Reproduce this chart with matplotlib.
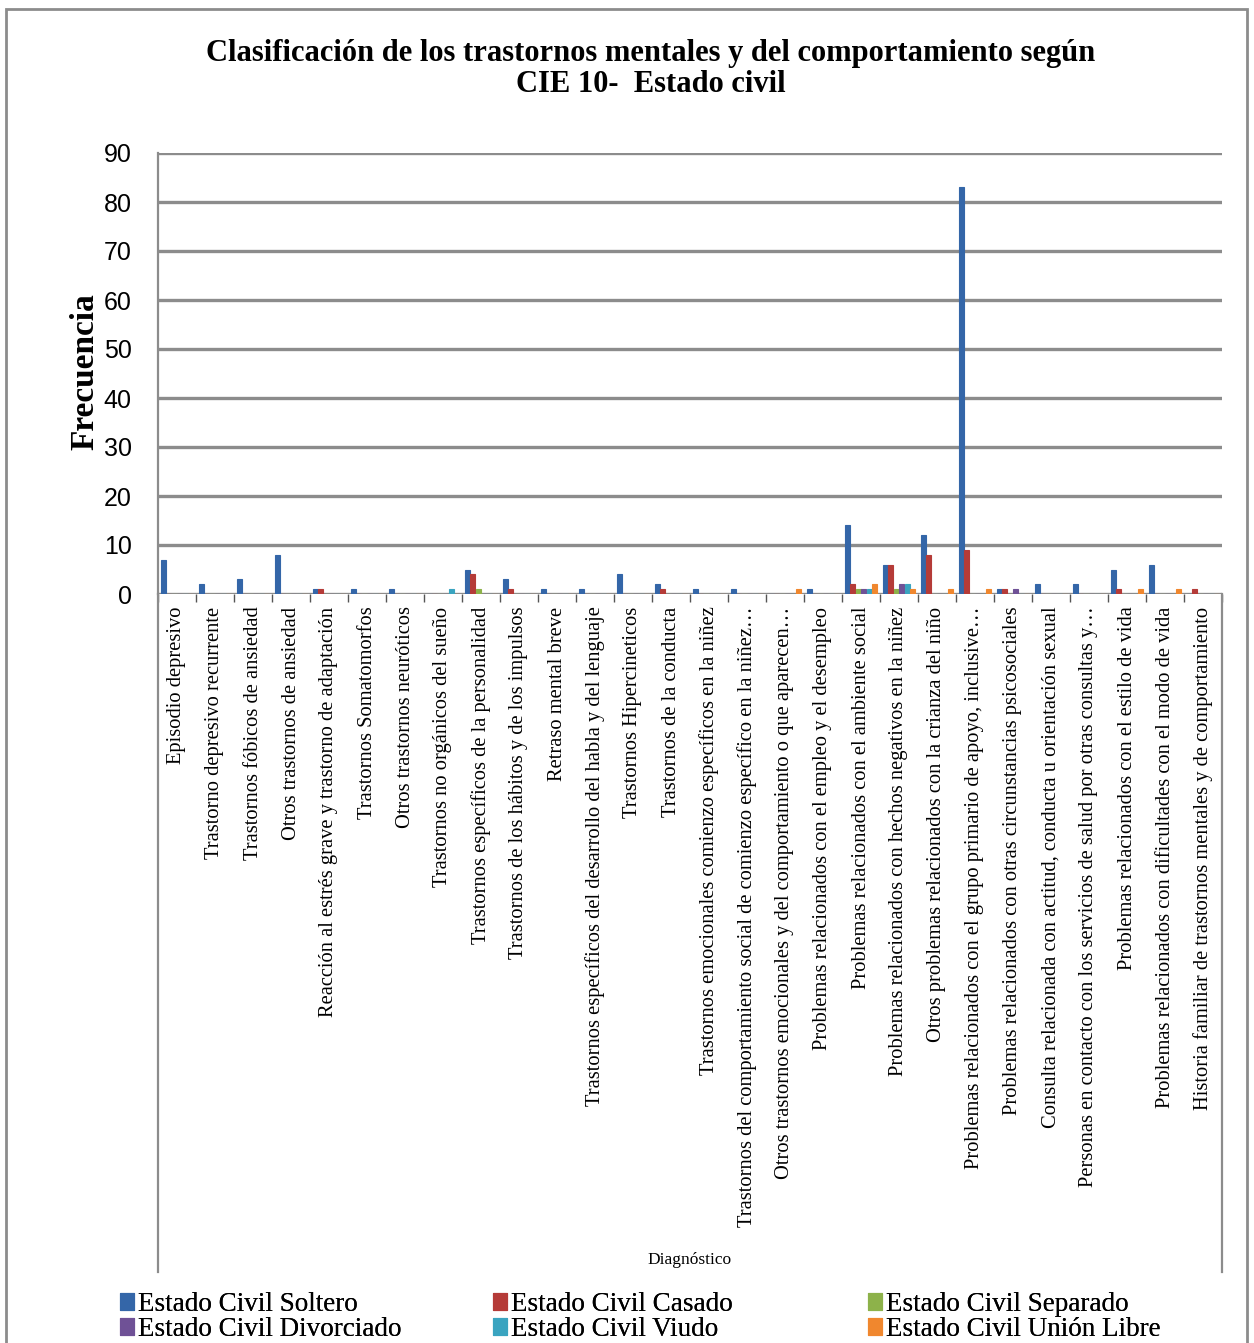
import matplotlib.pyplot as plt
import numpy as np
from matplotlib.lines import Line2D
from matplotlib.patches import Rectangle

# Diagnostic categories (CIE 10)
categorias = [
    "Episodio depresivo",
    "Trastorno depresivo recurrente",
    "Trastornos fóbicos de ansiedad",
    "Otros trastornos de ansiedad",
    "Reacción al estrés grave y trastorno de adaptación",
    "Trastornos Somatomorfos",
    "Otros trastornos neuróticos",
    "Trastornos no orgánicos del sueño",
    "Trastornos específicos de la personalidad",
    "Trastornos de los hábitos y de los impulsos",
    "Retraso mental breve",
    "Trastornos específicos del desarrollo del habla y del lenguaje",
    "Trastornos Hipercineticos",
    "Trastornos de la conducta",
    "Trastornos emocionales comienzo específicos en la niñez",
    "Trastornos del comportamiento social de comienzo específico en la niñez…",
    "Otros trastornos emocionales y del comportamiento o que aparecen…",
    "Problemas relacionados con el empleo y el desempleo",
    "Problemas relacionados con el ambiente social",
    "Problemas relacionados con hechos negativos en la niñez",
    "Otros problemas relacionados con la crianza del niño",
    "Problemas relacionados con el grupo primario de apoyo, inclusive…",
    "Problemas relacionados con otras circunstancias psicosociales",
    "Consulta relacionada con actitud, conducta u orientación sexual",
    "Personas en contacto con los servicios de salud por otras consultas y…",
    "Problemas relacionados con el estilo de vida",
    "Problemas relacionados con dificultades con el modo de vida",
    "Historia familiar de trastornos mentales y de comportamiento",
]

# Frequencies per civil status
soltero    = [7, 2, 3, 8, 1, 1, 1, 0, 5, 3, 1, 1, 4, 2, 1, 1, 0, 1, 14, 6, 12, 83, 1, 2, 2, 5, 6, 0]
casado     = [0, 0, 0, 0, 1, 0, 0, 0, 4, 1, 0, 0, 0, 1, 0, 0, 0, 0, 2, 6, 8, 9, 1, 0, 0, 1, 0, 1]
separado   = [0, 0, 0, 0, 0, 0, 0, 0, 1, 0, 0, 0, 0, 0, 0, 0, 0, 0, 1, 1, 0, 0, 0, 0, 0, 0, 0, 0]
divorciado = [0, 0, 0, 0, 0, 0, 0, 0, 0, 0, 0, 0, 0, 0, 0, 0, 0, 0, 1, 2, 0, 0, 1, 0, 0, 0, 0, 0]
viudo      = [0, 0, 0, 0, 0, 0, 0, 1, 0, 0, 0, 0, 0, 0, 0, 0, 0, 0, 1, 2, 0, 0, 0, 0, 0, 0, 0, 0]
union      = [0, 0, 0, 0, 0, 0, 0, 0, 0, 0, 0, 0, 0, 0, 0, 0, 1, 0, 2, 1, 1, 1, 0, 0, 0, 1, 1, 0]

series = [
    ("Estado Civil Soltero", soltero, "#3466A8"),
    ("Estado Civil Casado", casado, "#B53B38"),
    ("Estado Civil Separado", separado, "#8DB24A"),
    ("Estado Civil Divorciado", divorciado, "#6F5196"),
    ("Estado Civil Viudo", viudo, "#3AA4C0"),
    ("Estado Civil Unión Libre", union, "#F0872E"),
]

W, H = 1254, 1343
fig = plt.figure(figsize=(W / 100, H / 100), dpi=100)

def fx(px):
    return px / W

def fy(py):
    return 1 - py / H

left, right, top, base = 158, 1222, 153, 594
ax = fig.add_axes([fx(left), fy(base), fx(right - left), fy(top) - fy(base)])

x = np.arange(len(categorias))
step = 0.145
width = 0.125
bars = []
for i, (name, vals, color) in enumerate(series):
    b = ax.bar(x + (i - 2.5) * step, vals, width, color=color, edgecolor=color,
               linewidth=0.8, label=name, zorder=3)
    bars.append(b)

ax.set_xlim(-0.5, len(categorias) - 0.5)
ax.set_ylim(0, 90)
ax.set_yticks(range(0, 91, 10))
ax.yaxis.grid(True, color="#8c8c8c", linewidth=2.4, zorder=0)
ax.set_axisbelow(True)
for s in ["top", "right", "bottom"]:
    ax.spines[s].set_visible(False)
ax.spines["left"].set_color("#8c8c8c")
ax.spines["left"].set_linewidth(1.6)
ax.tick_params(axis="y", length=0, pad=19, labelsize=18)
for lab in ax.get_yticklabels():
    lab.set_family("Liberation Sans")

ax.set_xticks(x)
ax.set_xticklabels(categorias, rotation=90, family="Liberation Serif", fontsize=14.8)
ax.set_xticks(np.arange(-0.5, len(categorias), 1), minor=True)
ax.tick_params(axis="x", which="major", length=0, pad=9)
ax.tick_params(axis="x", which="minor", length=6, color="#555555", width=1,
               direction="out")

fig.text(fx(85), fy(372), "Frecuencia", family="Liberation Serif",
         fontweight="bold", fontsize=24, rotation=90, ha="center", va="center")

# plot area frame extending below the categories
bottom_px = 1272
fig.add_artist(Line2D([fx(left), fx(left)], [fy(base), fy(bottom_px)],
                      color="#8c8c8c", linewidth=1.6))
fig.add_artist(Line2D([fx(right), fx(right)], [fy(base), fy(bottom_px)],
                      color="#8c8c8c", linewidth=1.6))

fig.text(fx(690), fy(1260), "Diagnóstico", family="Liberation Serif",
         fontsize=12.5, ha="center", va="center")

fig.text(fx(651), fy(69),
         "Clasificación de los trastornos mentales y del comportamiento según\nCIE 10-  Estado civil",
         family="Liberation Serif", fontweight="bold", fontsize=22,
         ha="center", va="center", linespacing=1.12)

# outer chart border
fig.add_artist(Rectangle((fx(6), fy(1360)), fx(1241), fy(9) - fy(1360),
                         fill=False, edgecolor="#8c8c8c", linewidth=2))

# legend: three columns, filled row by row
for col, xpx in enumerate([120, 493, 868]):
    idx = [col, col + 3]
    leg = fig.legend([bars[i] for i in idx], [series[i][0] for i in idx],
                     loc="upper left", bbox_to_anchor=(fx(xpx), fy(1292)),
                     frameon=False, prop={"family": "Liberation Serif", "size": 19.5},
                     handlelength=0.5, handleheight=0.6, handletextpad=0.15,
                     labelspacing=0.0, borderpad=0, borderaxespad=0)
    fig.add_artist(leg)

fig.savefig("out.png", dpi=100)
